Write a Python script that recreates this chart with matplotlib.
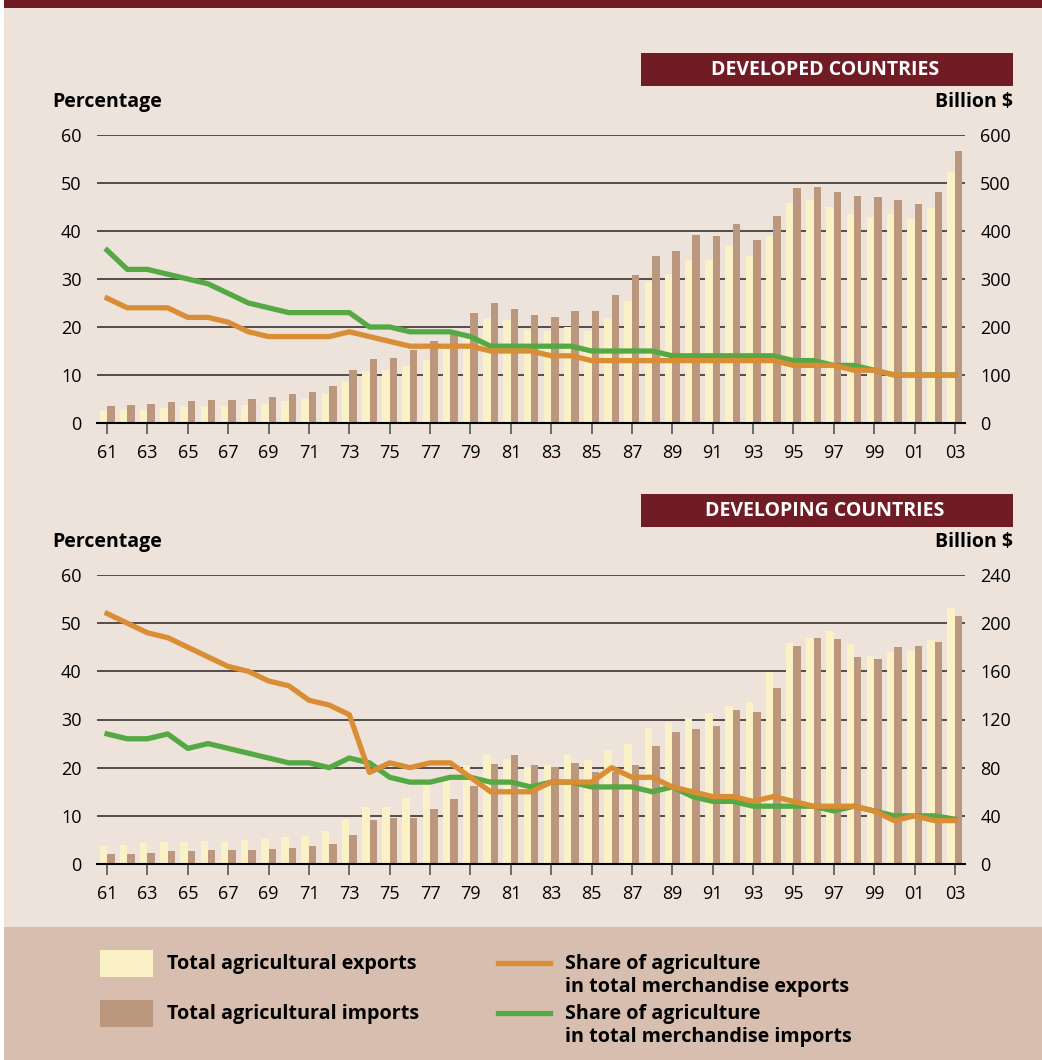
import numpy as np
import matplotlib.pyplot as plt
from matplotlib.patches import Rectangle
from matplotlib.lines import Line2D

plt.rcParams['font.family'] = ['Open Sans', 'DejaVu Sans']

years = np.arange(1961, 2004)
year_labels = ['%02d' % (y % 100) for y in years[::2]]

# developed countries, billion $ and percentage
dev_exports = [25, 27, 29, 31, 33, 35, 35, 37, 39, 46,
               50, 60, 87, 108, 110, 118, 131, 154, 176, 216,
               214, 195, 191, 199, 191, 216, 255, 295, 311, 340,
               340, 370, 347, 390, 459, 465, 451, 436, 430, 436,
               424, 448, 523]
dev_imports = [35, 37, 39, 44, 46, 48, 48, 50, 54, 60,
               64, 77, 110, 133, 135, 152, 170, 185, 230, 251,
               237, 224, 220, 233, 233, 266, 309, 347, 359, 392,
               390, 415, 382, 432, 490, 492, 482, 473, 471, 465,
               457, 482, 567]
dev_share_exp = [26, 24, 24, 24, 22, 22, 21, 19, 18, 18,
                 18, 18, 19, 18, 17, 16, 16, 16, 16, 15,
                 15, 15, 14, 14, 13, 13, 13, 13, 13, 13,
                 13, 13, 13, 13, 12, 12, 12, 11, 11, 10,
                 10, 10, 10]
dev_share_imp = [36, 32, 32, 31, 30, 29, 27, 25, 24, 23,
                 23, 23, 23, 20, 20, 19, 19, 19, 18, 16,
                 16, 16, 16, 16, 15, 15, 15, 15, 14, 14,
                 14, 14, 14, 14, 13, 13, 12, 12, 11, 10,
                 10, 10, 10]

# developing countries
dvg_exports = [15, 15.8, 17.4, 18.3, 18.3, 19.1, 19.1, 19.9, 20.8, 22.4,
               23.3, 27.4, 37.4, 47.3, 47.3, 54.8, 65.6, 71, 82.2, 90.5,
               87.2, 80.5, 82, 90.5, 86.4, 94.7, 99.6, 113, 118, 121,
               125.4, 131, 134.5, 159.4, 183.5, 187.7, 193.5, 182.7, 172.7, 176,
               176.9, 186, 212.6]
dvg_imports = [8.3, 8.3, 9.1, 10.8, 10.8, 11.6, 11.6, 11.6, 12.5, 13.3,
               15, 16.6, 24.1, 36.5, 38.2, 38.2, 45.7, 54, 64.8, 83,
               90.5, 82.2, 80.5, 83.9, 76.4, 76.4, 82.2, 98, 109.6, 112,
               114.6, 128, 126, 146, 181, 187.7, 186.8, 171.9, 170.2, 180.2,
               181, 184.3, 206]
dvg_share_exp = [52, 50, 48, 47, 45, 43, 41, 40, 38, 37,
                 34, 33, 31, 19, 21, 20, 21, 21, 18, 15,
                 15, 15, 17, 17, 17, 20, 18, 18, 16, 15,
                 14, 14, 13, 14, 13, 12, 12, 12, 11, 9,
                 10, 9, 9]
dvg_share_imp = [27, 26, 26, 27, 24, 25, 24, 23, 22, 21,
                 21, 20, 22, 21, 18, 17, 17, 18, 18, 17,
                 17, 16, 17, 17, 16, 16, 16, 15, 16, 14,
                 13, 13, 12, 12, 12, 12, 11, 12, 11, 10,
                 10, 10, 9.3]

BG = '#EDE3DB'
BAND = '#D8BEAE'
RED = '#711C25'
LIGHT = '#FAF2C6'
BROWN = '#BB977D'
ORANGE = '#D98D34'
GREEN = '#55A944'

W, H = 1042, 1060
fig = plt.figure(figsize=(W / 100, H / 100), dpi=100, facecolor='white')


def fx(x):
    return x / W


def fy(y):
    return 1 - y / H


def prect(x0, y0, x1, y1, color):
    fig.add_artist(Rectangle((fx(x0), fy(y1)), fx(x1) - fx(x0), fy(y0) - fy(y1),
                             transform=fig.transFigure, color=color, lw=0, zorder=0))


# backgrounds
prect(4, 0, W, H, BG)
prect(4, 0, W, 8, RED)
prect(4, 927, W, H, BAND)


def panel(top, bottom, exports, imports, sh_exp, sh_imp, bmax, bstep, title, box_top):
    rect = [fx(97), fy(bottom), fx(965) - fx(97), (bottom - top) / H]
    ax = fig.add_axes(rect)
    axb = ax.twinx()
    ax.set_zorder(axb.get_zorder() + 1)
    ax.patch.set_visible(False)
    axb.patch.set_visible(False)

    for v in range(bstep, bmax + 1, bstep):
        axb.axhline(v, color='#2a2421', lw=1.1, zorder=0)
    w = 0.37
    axb.bar(years - w / 2, exports, width=w, color=LIGHT, zorder=2)
    axb.bar(years + w / 2, imports, width=w, color=BROWN, zorder=2)
    axb.set_ylim(0, bmax)
    axb.set_yticks(range(0, bmax + 1, bstep))
    axb.tick_params(axis='y', length=0, pad=11, labelsize=13)

    ax.plot(years, sh_imp, color=GREEN, lw=3.8, zorder=3)
    ax.plot(years, sh_exp, color=ORANGE, lw=3.8, zorder=4)
    ax.set_ylim(0, 60)
    ax.set_yticks(range(0, 61, 10))
    ax.tick_params(axis='y', length=0, pad=11, labelsize=13)
    ax.set_xlim(1960.5, 2003.5)
    ax.set_xticks(years[::2])
    ax.set_xticklabels(year_labels)
    ax.tick_params(axis='x', direction='out', length=8, width=1.2, color='#555555',
                   pad=7, labelsize=13)

    for a in (ax, axb):
        for s in ('top', 'left', 'right', 'bottom'):
            a.spines[s].set_visible(False)
    ax.spines['bottom'].set_visible(True)
    ax.spines['bottom'].set_color('black')
    ax.spines['bottom'].set_linewidth(1.5)

    # header box and axis titles
    prect(641, box_top, 1013, box_top + 33, RED)
    fig.text(fx(825), fy(box_top + 17), title, color='white', fontsize=14,
             fontweight='bold', ha='center', va='center')
    fig.text(fx(52), fy(top - 33), 'Percentage', fontsize=14, fontweight='bold',
             ha='left', va='center')
    fig.text(fx(1013), fy(top - 33), 'Billion $', fontsize=14, fontweight='bold',
             ha='right', va='center')


panel(135, 423, dev_exports, dev_imports, dev_share_exp, dev_share_imp,
      600, 100, 'DEVELOPED COUNTRIES', 53)
panel(575, 864, dvg_exports, dvg_imports, dvg_share_exp, dvg_share_imp,
      240, 40, 'DEVELOPING COUNTRIES', 494)

# legend
fs = 14.2
prect(100, 950, 153, 977, LIGHT)
prect(100, 1000, 153, 1027, BROWN)
fig.text(fx(167), fy(964), 'Total agricultural exports', fontsize=fs,
         fontweight='bold', va='center')
fig.text(fx(167), fy(1014), 'Total agricultural imports', fontsize=fs,
         fontweight='bold', va='center')
fig.add_artist(Line2D([fx(498), fx(550)], [fy(963), fy(963)], color=ORANGE,
                      lw=3.8, transform=fig.transFigure))
fig.add_artist(Line2D([fx(498), fx(550)], [fy(1013), fy(1013)], color=GREEN,
                      lw=3.8, transform=fig.transFigure))
fig.text(fx(565), fy(964), 'Share of agriculture', fontsize=fs,
         fontweight='bold', va='center')
fig.text(fx(565), fy(987), 'in total merchandise exports', fontsize=fs,
         fontweight='bold', va='center')
fig.text(fx(565), fy(1014), 'Share of agriculture', fontsize=fs,
         fontweight='bold', va='center')
fig.text(fx(565), fy(1037), 'in total merchandise imports', fontsize=fs,
         fontweight='bold', va='center')

fig.savefig('out.png', dpi=100, facecolor='white')
